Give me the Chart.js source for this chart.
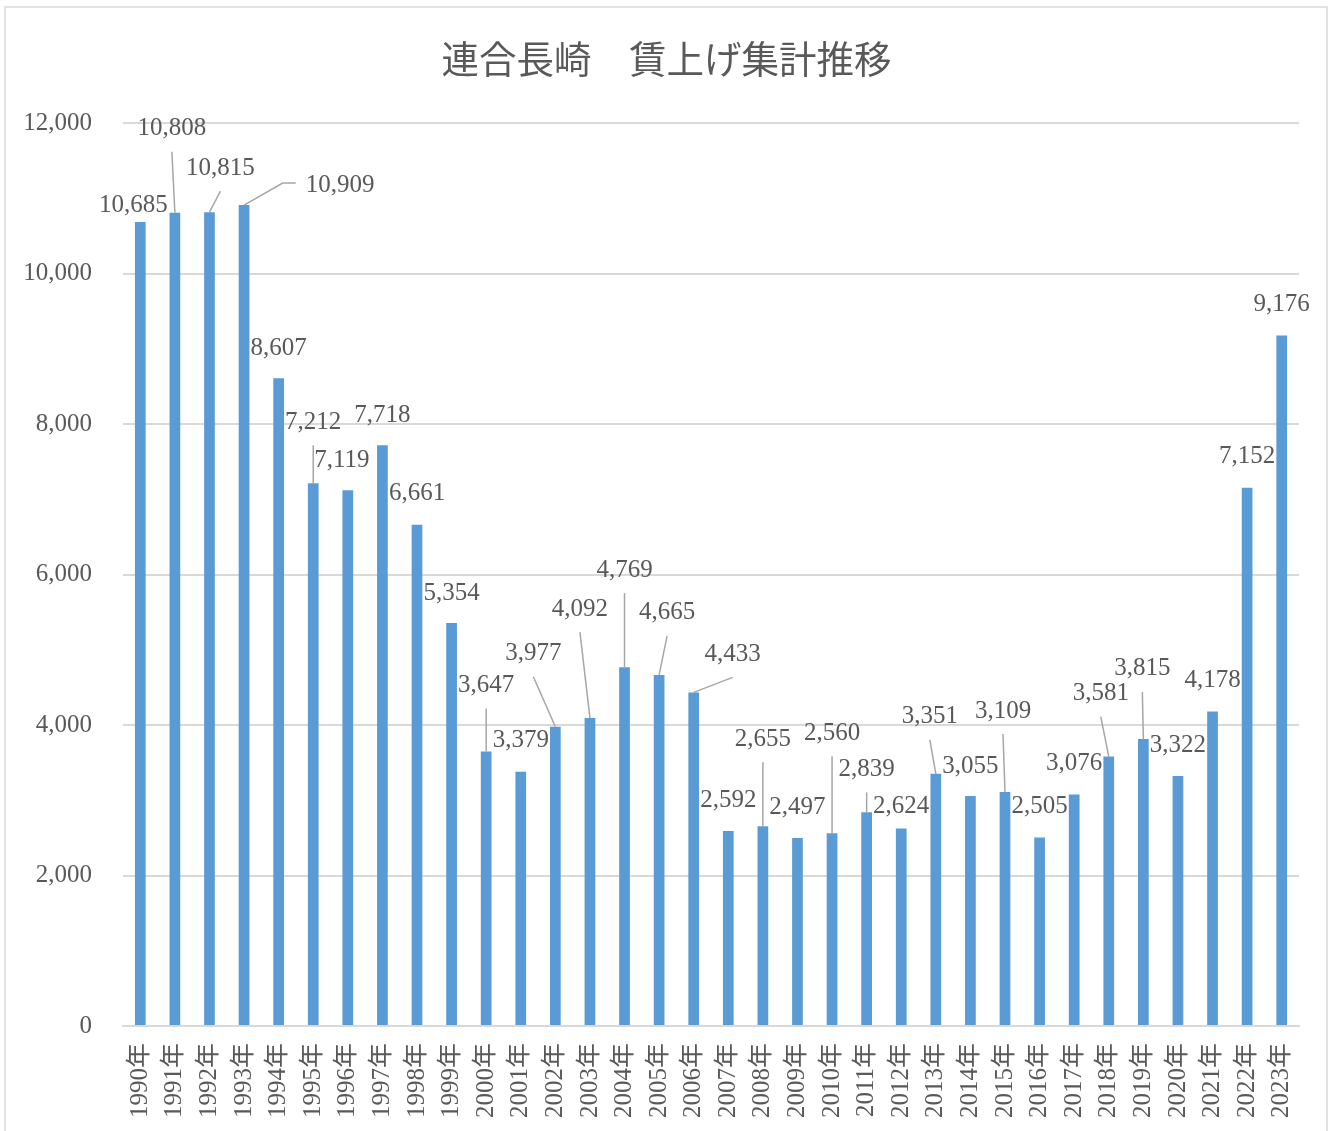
<!DOCTYPE html>
<html lang="ja">
<head>
<meta charset="utf-8">
<title>連合長崎 賃上げ集計推移</title>
<script src="https://cdn.jsdelivr.net/npm/chart.js@4"></script>
<style>
    html, body { margin: 0; padding: 0; background: #fff; }
    canvas { display: block; }
</style>
</head>
<body>
<canvas id="wageChart" width="1333" height="1131"></canvas>
<script>
// Data
const years = ['1990年', '1991年', '1992年', '1993年', '1994年', '1995年', '1996年', '1997年', '1998年', '1999年',
    '2000年', '2001年', '2002年', '2003年', '2004年', '2005年', '2006年', '2007年', '2008年', '2009年',
    '2010年', '2011年', '2012年', '2013年', '2014年', '2015年', '2016年', '2017年', '2018年', '2019年',
    '2020年', '2021年', '2022年', '2023年'];
const wageUp = [10685, 10808, 10815, 10909, 8607, 7212, 7119, 7718, 6661, 5354,
    3647, 3379, 3977, 4092, 4769, 4665, 4433, 2592, 2655, 2497,
    2560, 2839, 2624, 3351, 3055, 3109, 2505, 3076, 3581, 3815,
    3322, 4178, 7152, 9176];
const yTicks = [0, 2000, 4000, 6000, 8000, 10000, 12000];
const chartTitle = '連合長崎　賃上げ集計推移';

// Label placement (px from bar top): [dx, dy, leader] 0 = none, 1 = from below, 2 = from left
const labelPos = [
    [-7, -18, 0], [-3, -86, 1], [11, -46, 1], [96, -22, 2], [0, -32, 0],
    [0, -63, 1], [-6, -32, 0], [0, -32, 0], [0, -33, 0], [0, -32, 0],
    [0, -68, 1], [0, -33, 0], [-22, -75, 1], [-10, -111, 1], [0, -99, 1],
    [8, -64, 1], [39, -40, 1], [0, -32, 0], [0, -89, 1], [0, -33, 0],
    [0, -102, 1], [0, -45, 1], [0, -24, 0], [-6, -59, 1], [0, -32, 0],
    [-2, -83, 1], [0, -33, 0], [0, -33, 0], [-8, -65, 1], [-1, -72, 1],
    [0, -33, 0], [0, -33, 0], [0, -33, 0], [0, -33, 0]
];

const textColor = '#595959';
const gridColor = '#d9d9d9';
const numFont = '"Liberation Serif", "Noto Sans CJK JP", serif';

const fmt = v => v.toLocaleString('en-US');

// white background + outer frame
const framePlugin = {
    id: 'frame',
    beforeDraw(chart) {
        const ctx = chart.ctx;
        ctx.save();
        ctx.fillStyle = '#fff';
        ctx.fillRect(0, 0, chart.width, chart.height);
        ctx.strokeStyle = gridColor;
        ctx.lineWidth = 1.5;
        ctx.strokeRect(5, 7, chart.width - 11, chart.height + 10);
        ctx.restore();
    }
};

// value labels with leader lines
const valueLabels = {
    id: 'valueLabels',
    afterDatasetsDraw(chart) {
        const ctx = chart.ctx;
        const meta = chart.getDatasetMeta(0);
        ctx.save();
        ctx.font = '25px ' + numFont;
        ctx.textAlign = 'center';
        ctx.textBaseline = 'alphabetic';
        meta.data.forEach((bar, i) => {
            const [dx, dy, leader] = labelPos[i];
            const text = fmt(wageUp[i]);
            const cx = bar.x + dx;
            const cy = bar.y + dy;
            ctx.strokeStyle = '#a6a6a6';
            ctx.lineWidth = 1.5;
            if (leader === 1) {
                ctx.beginPath();
                ctx.moveTo(cx, cy + 25);
                ctx.lineTo(bar.x, bar.y);
                ctx.stroke();
            } else if (leader === 2) {
                const left = cx - ctx.measureText(text).width / 2;
                ctx.beginPath();
                ctx.moveTo(left - 10, cy);
                ctx.lineTo(left - 23, cy);
                ctx.lineTo(bar.x, bar.y);
                ctx.stroke();
            }
            ctx.fillStyle = textColor;
            ctx.fillText(text, cx, cy + 8.5);
        });
        ctx.restore();
    }
};

const ctx = document.getElementById('wageChart').getContext('2d');
const wageChart = new Chart(ctx, {
    type: 'bar',
    data: {
        labels: years,
        datasets: [{
            label: '賃上げ額',
            data: wageUp,
            backgroundColor: '#5b9bd5',
            barPercentage: 0.31,
            categoryPercentage: 1
        }]
    },
    options: {
        responsive: false,
        animation: false,
        devicePixelRatio: 1,
        layout: {
            padding: 0
        },
        plugins: {
            legend: { display: false },
            tooltip: { enabled: false },
            title: {
                display: true,
                text: chartTitle,
                color: textColor,
                font: { family: '"Noto Sans CJK JP", sans-serif', size: 37.5, weight: 'normal' },
                padding: { top: 36, bottom: 42 }
            }
        },
        scales: {
            x: {
                grid: { display: false, drawTicks: false },
                border: { display: true, color: gridColor, width: 2 },
                ticks: {
                    color: textColor,
                    font: { family: numFont, size: 25 },
                    minRotation: 90,
                    maxRotation: 90,
                    autoSkip: false,
                    padding: 17
                },
                afterFit(scale) { scale.height = 105; }
            },
            y: {
                min: yTicks[0],
                max: yTicks[yTicks.length - 1],
                grid: { color: gridColor, lineWidth: 2, drawTicks: false },
                border: { display: false },
                ticks: {
                    stepSize: yTicks[1] - yTicks[0],
                    color: textColor,
                    font: { family: numFont, size: 25 },
                    padding: 31,
                    callback: v => fmt(v)
                },
                afterFit(scale) { scale.width = 123; }
            },
            // empty right-hand spacer so the title centres on the whole frame
            spacer: {
                type: 'linear',
                position: 'right',
                grid: { display: false, drawTicks: false },
                border: { display: false },
                ticks: { display: false },
                afterFit(scale) { scale.width = 34; }
            }
        }
    },
    plugins: [framePlugin, valueLabels]
});
</script>
</body>
</html>
